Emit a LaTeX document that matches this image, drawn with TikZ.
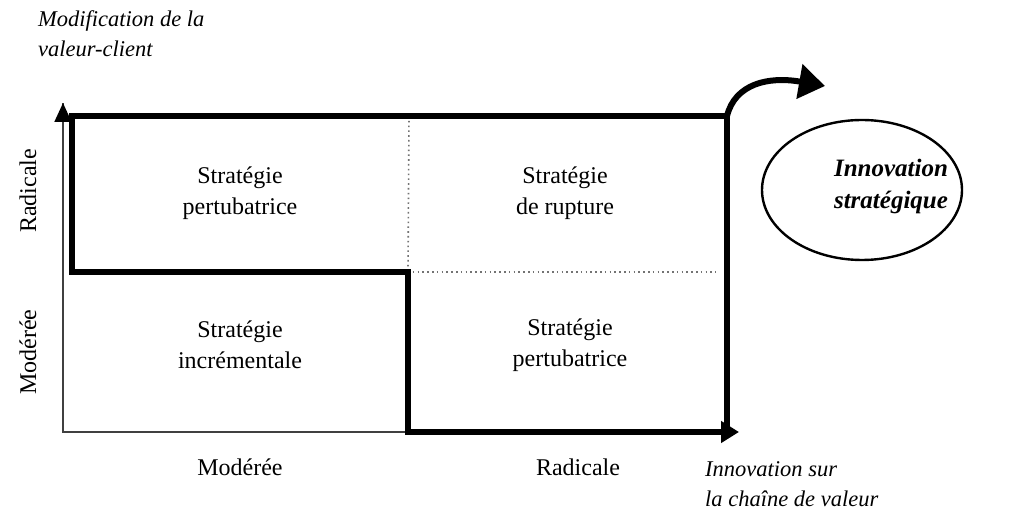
\documentclass[tikz,border=0pt]{standalone}
\usepackage{fontspec}
\setmainfont{Liberation Serif}
\usetikzlibrary{arrows.meta}
\begin{document}
\begin{tikzpicture}[x=1pt,y=-1pt,
  thickline/.style={line width=6.5pt, line join=miter},
  thinaxis/.style={line width=1.8pt, black!75},
  dotline/.style={line width=1.6pt, black!55, dash pattern=on 1.6pt off 3.2pt},
  cell/.style={align=center, inner sep=0pt, font=\fontsize{24}{31}\selectfont},
  lab/.style={inner sep=0pt, font=\fontsize{24}{30}\selectfont},
  ital/.style={inner sep=0pt, font=\fontsize{22.5}{30}\selectfont\itshape}]
\useasboundingbox (0,0) rectangle (1023,510);
\fill[white] (0,0) rectangle (1023,510);
% corner coordinates
\coordinate (O) at (63,432);
\coordinate (Ytop) at (63,103);
\coordinate (Xmid) at (408,432);
\coordinate (TL) at (72,116);
\coordinate (TR) at (727,116);
\coordinate (BR) at (727,432);
\coordinate (ML) at (72,272);
\coordinate (MM) at (408,272);
\coordinate (Xend) at (739,432);
\coordinate (DT) at (409,116);
\coordinate (DR) at (716,272);
\coordinate (CurveEnd) at (825,86);
% thin axes
\draw[thinaxis] (Xmid) -- (O) -- (Ytop);
\draw[thinaxis, -{Triangle[length=19pt,width=17pt,color=black]}] (O) -- (Ytop);
% dotted lines
\draw[dotline] (DT) -- (MM);
\draw[dotline] (MM) -- (DR);
% thick outline
\draw[thickline, -{Triangle[length=18pt,width=21pt]}] (BR) -- (TR) -- (TL) -- (ML) -- (MM) -- (Xmid) -- (Xend);
% curved arrow
\draw[line width=6pt, -{Triangle[length=26pt,width=34pt]}] (TR) .. controls (735,84) and (768,76) .. (CurveEnd);
% ellipse
\draw[line width=2.4pt] (862,190) ellipse [x radius=100, y radius=70];
\node[align=center, inner sep=0pt, font=\fontsize{25}{32}\selectfont\bfseries\itshape] (inno) at (891,186) {Innovation\\strat\'egique};
% cells
\node[cell] (c1) at (240,193) {Strat\'egie\\pertubatrice};
\node[cell] (c2) at (565,193) {Strat\'egie\\de rupture};
\node[cell] (c3) at (240,345) {Strat\'egie\\incr\'ementale};
\node[cell] (c4) at (570,345) {Strat\'egie\\pertubatrice};
% axis labels
\node[lab, rotate=90] (yr) at (28,191) {Radicale};
\node[lab, rotate=90] (ym) at (28,352) {Mod\'er\'ee};
\node[lab] (xm) at (240,467) {Mod\'er\'ee};
\node[lab] (xr) at (578,467) {Radicale};
\node[ital, anchor=base west] (yt1) at (38,27) {Modification de la};
\node[ital, anchor=base west] (yt2) at (38,57) {valeur-client};
\node[ital, anchor=base west] (xt1) at (705,476) {Innovation sur};
\node[ital, anchor=base west] (xt2) at (705,506) {la cha\^ine de valeur};
\end{tikzpicture}
\end{document}
